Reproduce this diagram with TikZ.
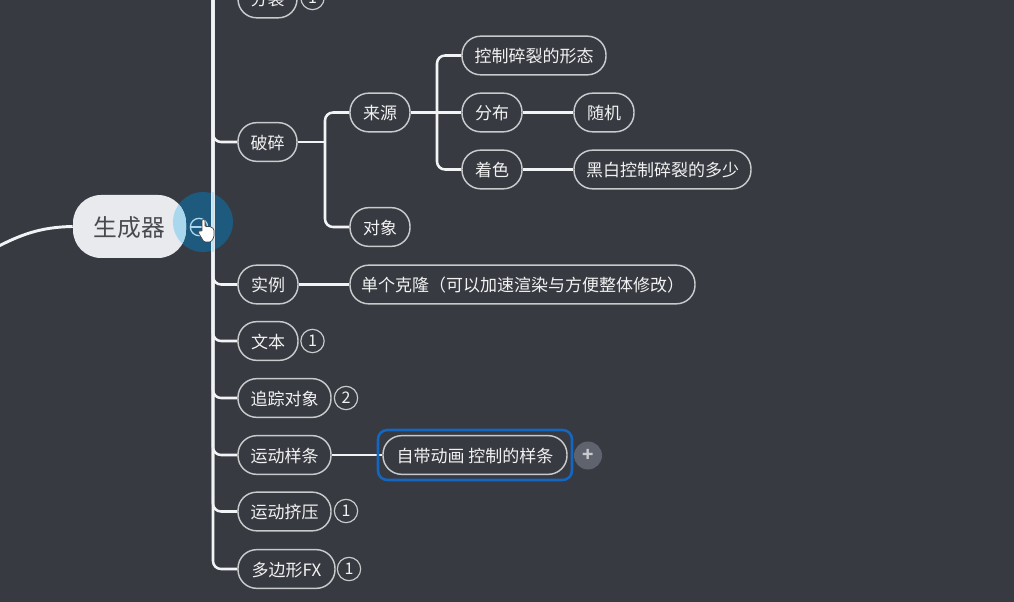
\documentclass[tikz,border=0pt]{standalone}
\usepackage{fontspec}
\setmainfont{Noto Sans CJK SC}
\definecolor{bg}{HTML}{373A41}
\definecolor{edge}{HTML}{C9CACC}
\definecolor{txt}{HTML}{F2F2F2}
\definecolor{wire}{HTML}{F2F3F5}
\definecolor{rootfill}{HTML}{E8EAEE}
\definecolor{hover}{HTML}{1D5A7E}
\definecolor{hoverlight}{HTML}{A9D8EE}
\definecolor{select}{HTML}{1466C0}
\definecolor{plusfill}{HTML}{5E636E}
\tikzset{
  topic/.style={draw=edge,line width=1.1pt,fill=bg,text=txt,rounded corners=14pt,inner sep=0pt,
    minimum height=29pt,font=\fontsize{12.75}{14}\selectfont},
  badge/.style={circle,draw=edge,line width=0.9pt,fill=bg,text=txt,inner sep=0pt,minimum size=17.5pt,
    font=\fontsize{12}{13}\selectfont},
  conn/.style={draw=wire,line width=1.9pt,rounded corners=6pt},
  straight/.style={draw=wire,line width=1.9pt},
}
\newcommand{\nudged}[2]{\raisebox{-#1}[\height][\depth]{#2}}
\newcommand{\tp}[5]{\node[topic,minimum width={(#3-#2)*0.75pt}] (#1) at ({(#2+#3)/2},#4) {\nudged{0.7pt}{#5}};}
\newcommand{\bd}[4]{\node[badge] (#1) at (#2,#3) {#4};}
\begin{document}
\begin{tikzpicture}[x=0.75pt,y=-0.75pt]
\useasboundingbox (0,0) rectangle (1014,602);
\clip (0,0) rectangle (1014,602);
\fill[bg] (0,0) rectangle (1014,602);
% hover halo behind
\fill[hover] (203,222) circle (30);
% coordinates
\coordinate (top) at (213,-10);
\coordinate (free) at (-5,248);
\coordinate (f1) at (325,142);
\coordinate (f2) at (437,112.5);
% nodes
\tp{liezhi}{238}{297}{-1.5}{分裂}
\bd{b0}{312.5}{-2}{1}
\tp{posui}{238}{297}{142}{破碎}
\tp{laiyuan}{350}{410}{112.5}{来源}
\tp{kongzhi}{462}{606}{55.5}{控制碎裂的形态}
\tp{fenbu}{462}{522}{112.5}{分布}
\tp{suiji}{574}{634}{112.5}{随机}
\tp{zhuose}{462}{522}{169.5}{着色}
\tp{heibai}{574}{751}{169.5}{黑白控制碎裂的多少}
\tp{duixiang}{350}{410}{227}{对象}
\tp{shili}{238}{298}{284.5}{实例}
\tp{danke}{350}{695}{284.5}{单个克隆（可以加速渲染与方便整体修改）}
\tp{wenben}{238}{298}{341}{文本}
\bd{b1}{312.5}{341}{1}
\tp{zhuizong}{238}{331}{398}{追踪对象}
\bd{b2}{346}{398}{2}
\tp{yundong}{238}{331}{455}{运动样条}
\tp{zidai}{383}{567}{455}{自带动画 控制的样条}
\tp{jiya}{238}{331}{511.5}{运动挤压}
\bd{b3}{346}{511}{1}
\tp{duobian}{238}{335}{569}{多边形FX}
\bd{b4}{349}{569}{1}
% connectors
\draw[conn] (top) |- (duobian.west);
\foreach \n in {liezhi,posui,shili,wenben,zhuizong,yundong,jiya}{\draw[conn] (top) |- (\n.west);}
\draw[straight] (posui.east) -- (f1);
\draw[conn] (f1) |- (laiyuan.west);
\draw[conn] (f1) |- (duixiang.west);
\draw[straight] (laiyuan.east) -- (fenbu.west);
\draw[conn] (f2) |- (kongzhi.west);
\draw[conn] (f2) |- (zhuose.west);
\draw[straight] (fenbu.east) -- (suiji.west);
\draw[straight] (zhuose.east) -- (heibai.west);
\draw[straight] (shili.east) -- (danke.west);
\draw[straight] (yundong.east) -- (zidai.west);
% selection frame and plus
\node[draw=select,line width=1.9pt,rounded corners=7pt,minimum width=145.5pt,minimum height=37.5pt,inner sep=0pt] (sel) at (475,455) {};
\node[circle,fill=plusfill,text=edge,minimum size=21pt,inner sep=0pt,font=\fontsize{14}{14}\selectfont\bfseries] (plus) at (588,455.5) {+};
% root
\node[fill=rootfill,rounded corners=21pt,minimum width=84.75pt,minimum height=47.25pt,inner sep=0pt,text={rgb,255:red,72;green,74;blue,80},font=\fontsize{17.8}{20}\selectfont] (root) at (129.5,226.5) {\nudged{1pt}{生成器}};
\draw[draw=wire,line width=2.2pt] (root.west) .. controls (40,227) and (20,235) .. (free);
% hover overlap on root
\begin{scope}
\clip (203,222) circle (30);
\fill[hoverlight,rounded corners=21pt] (73,195) rectangle (186,258);
\end{scope}
\draw[hoverlight!70!white,line width=1.9pt] (213,192) -- (213,252);
% collapse button
\node[circle,draw=hoverlight,line width=1pt,minimum size=13pt,inner sep=0pt] (btn) at (199,227) {};
\draw[hoverlight,line width=1.2pt] (btn.west) -- (btn.east);
% hand cursor
\fill[white,draw=black!75,line width=0.5pt,rounded corners=1pt]
 (202,219) -- (205,219) -- (205,227) -- (208,226) -- (211,227) -- (214,229) -- (214,237) -- (211,242) -- (204,242) -- (198,232) -- (200,230) -- (202,232) -- cycle;
\end{tikzpicture}
\end{document}
